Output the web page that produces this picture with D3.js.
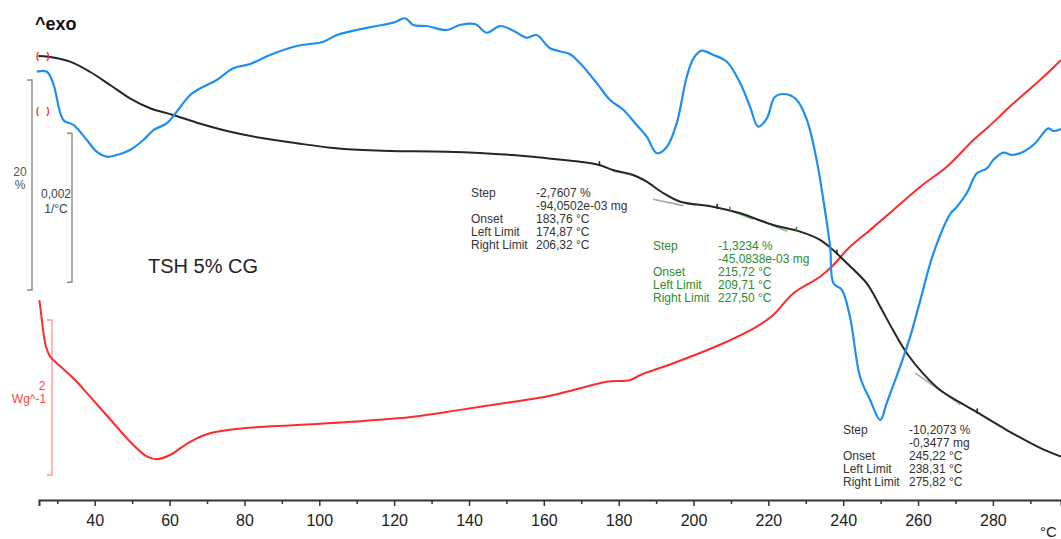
<!DOCTYPE html>
<html>
<head>
<meta charset="utf-8">
<script src="https://cdn.jsdelivr.net/npm/d3@7"></script>
<style>
  html, body { margin: 0; padding: 0; background: #fff; overflow: hidden; }
  svg { display: block; font-family: "Liberation Sans", Arial, sans-serif; }
</style>
</head>
<body>
<svg id="chart" width="1061" height="539"></svg>
<script>
// ---- TG curve: mass (%) vs temperature (°C)
const tgTemp = [24.9, 27.6, 33.4, 38.7, 44.1, 49.4, 54.8, 60.9, 67.3, 76.2, 85.0, 94.0, 102.9, 111.7, 118.9,
  134.1, 151.8, 160.8, 169.7, 174.8, 178.5, 183.9, 187.5, 191.9, 196.5, 205.2, 212.5, 221.3, 228.5, 233.8,
  237.3, 241.0, 246.3, 249.9, 253.3, 257.0, 261.3, 265.9, 274.7, 283.7, 292.6, 298.2];
const tgValue = [100.0, 99.93, 99.46, 98.50, 97.24, 95.97, 95.02, 94.38, 93.65, 92.79, 92.16, 91.69, 91.27, 91.05, 90.95,
  90.89, 90.57, 90.26, 89.93, 89.62, 89.14, 88.67, 88.03, 86.95, 86.12, 85.65, 85.02, 83.90, 83.27, 82.48,
  81.52, 80.26, 78.35, 76.12, 73.90, 71.69, 69.78, 68.19, 66.29, 64.38, 62.67, 61.84];

// ---- DTG curve (1/°C)
const dtgTemp = [24.5, 27.2, 28.9, 31.6, 34.3, 37.9, 40.5, 43.2, 45.9, 49.4, 53.0, 55.7, 59.2, 61.9, 65.5, 69.0,
  72.6, 77.0, 81.5, 86.8, 94.0, 101.1, 104.7, 110.0, 115.4, 119.8, 122.9, 125.1, 128.7, 134.1, 137.6, 141.6,
  144.8, 148.3, 151.9, 155.4, 158.1, 161.7, 167.0, 169.7, 174.2, 177.7, 181.3, 184.8, 187.5, 190.2, 192.9,
  195.5, 198.2, 200.0, 202.2, 205.3, 208.9, 212.5, 215.1, 217.3, 219.6, 221.8, 224.9, 227.6, 230.3, 232.9,
  234.7, 236.5, 237.4, 239.6, 241.8, 244.5, 247.2, 249.9, 251.6, 255.2, 257.9, 260.6, 264.1, 268.7, 270.4,
  273.0, 275.7, 278.4, 280.1, 282.8, 285.1, 288.2, 291.3, 294.8, 296.2, 298.2];
const dtgValue = [0, 0, -0.000156, -0.000648, -0.000715, -0.000917, -0.001074, -0.001141, -0.001118, -0.001051,
  -0.000917, -0.000783, -0.000693, -0.000537, -0.000313, -0.000201, -0.000111, 0.000046, 0.000103, 0.000224,
  0.000345, 0.000403, 0.000493, 0.000560, 0.000613, 0.000658, 0.000717, 0.000627, 0.000613, 0.000560, 0.000627,
  0.000640, 0.000523, 0.000613, 0.000550, 0.000456, 0.000493, 0.000314, 0.000234, 0.000113, -0.000156,
  -0.000380, -0.000514, -0.000715, -0.000872, -0.001095, -0.001007, -0.000693, -0.000067, 0.000180, 0.000282,
  0.000224, 0.000134, -0.000156, -0.000470, -0.000738, -0.000626, -0.000336, -0.000303, -0.000380, -0.000648,
  -0.001185, -0.001722, -0.002349, -0.002840, -0.002926, -0.003289, -0.004094, -0.004407, -0.004675, -0.004451,
  -0.003960, -0.003557, -0.003069, -0.002438, -0.001901, -0.001812, -0.001632, -0.001364, -0.001297, -0.001185,
  -0.001087, -0.001118, -0.001074, -0.000961, -0.000760, -0.000796, -0.000769];

// ---- DSC heat flow (W/g)
const dscTemp = [25.2, 25.8, 26.3, 27.0, 28.1, 30.7, 34.3, 38.7, 45.0, 49.4, 53.9, 56.6, 60.1, 65.5, 70.8, 79.7,
  94.0, 111.8, 125.1, 138.5, 151.9, 161.7, 167.9, 176.8, 183.1, 185.8, 194.6, 208.0, 216.9, 221.3, 226.7,
  233.8, 237.4, 241.4, 247.2, 253.4, 260.6, 267.7, 274.8, 278.4, 285.5, 292.6, 298.2];
const dscValue = [-0.04, -0.27, -0.465, -0.645, -0.770, -0.890, -1.049, -1.283, -1.626, -1.864, -2.057, -2.094,
  -2.039, -1.868, -1.759, -1.695, -1.652, -1.600, -1.545, -1.450, -1.352, -1.274, -1.200, -1.094, -1.071,
  -1.006, -0.855, -0.597, -0.383, -0.232, 0.048, 0.262, 0.413, 0.628, 0.865, 1.123, 1.423, 1.681, 2.026,
  2.177, 2.499, 2.800, 3.058];

// ---- x-axis ticks
const tickTemps = d3.range(30, 300, 10);
const labelledTemps = [40, 60, 80, 100, 120, 140, 160, 180, 200, 220, 240, 260, 280];

// ---- step evaluations on the TG curve
const stepLabels = ["Step", "", "Onset", "Left Limit", "Right Limit"];
const step1Values = ["-2,7607 %", "-94,0502e-03 mg", "183,76 °C", "174,87 °C", "206,32 °C"];
const step2Values = ["-1,3234 %", "-45,0838e-03 mg", "215,72 °C", "209,71 °C", "227,50 °C"];
const step3Values = ["-10,2073 %", "-0,3477 mg", "245,22 °C", "238,31 °C", "275,82 °C"];
const stepLimits = [[174.87, 206.32], [209.71, 227.50], [238.31, 275.82]];
// tangent segments: [T, TG %] pairs
const stepTangents = [
  [[[178.5, 89.05], [184.8, 88.55]], [[189.2, 86.35], [197.3, 85.75]]],
  [[[210.6, 85.20], [215.9, 84.45]], [[219.7, 84.10], [225.0, 83.30]]],
  [[[240.5, 80.45], [246.7, 78.20]], [[259.3, 69.80], [271.3, 66.80]]]
];

const svg = d3.select("#chart");

const x = d3.scaleLinear().domain([25.1, 298.2]).range([39, 1061]);
const yTG = d3.scaleLinear().domain([100, 80]).range([56, 266]);
const yDTG = d3.scaleLinear().domain([0, -0.002]).range([71.7, 220.7]);
const yDSC = d3.scaleLinear().domain([0, -2]).range([297, 452]);

const BLUE = "#1e8ff0", RED = "#ff2a2a", BLACK = "#262626", GREEN = "#2e8b2e";

// ---- scale bars
function scaleBar(xPos, top, span, color) {
  svg.append("path")
    .attr("d", `M${xPos - 5},${top}H${xPos}V${top + span}H${xPos - 5}`)
    .attr("fill", "none").attr("stroke", color).attr("stroke-width", 1.4);
}
scaleBar(32, 80, yTG(80) - yTG(100), "#8a8a8a");
scaleBar(72, 133.3, yDTG(-0.002) - yDTG(0), "#8a8a8a");
scaleBar(52, 320, yDSC(-2) - yDSC(0), "#ff9a9a");

const barText = [
  { t: "20", x: 20, y: 176, c: "#555" }, { t: "%", x: 20, y: 189, c: "#555" },
  { t: "0,002", x: 56, y: 198, c: "#444" }, { t: "1/°C", x: 56, y: 213, c: "#444" },
  { t: "2", x: 42, y: 390, c: "#ff4444" }, { t: "Wg^-1", x: 29, y: 403, c: "#ff4444" }
];
svg.selectAll("text.bar").data(barText).join("text")
  .attr("class", "bar").attr("x", d => d.x).attr("y", d => d.y)
  .attr("text-anchor", "middle").attr("font-size", 12).attr("fill", d => d.c).text(d => d.t);

// ---- curves
const line = (sx, sy) => d3.line().x(d => sx(d[0])).y(d => sy(d[1])).curve(d3.curveCatmullRom.alpha(0.5));
const zip = (a, b) => a.map((v, i) => [v, b[i]]);

svg.append("path").datum(zip(dscTemp, dscValue))
  .attr("d", line(x, yDSC)).attr("fill", "none").attr("stroke", RED).attr("stroke-width", 2);

// tangents
stepTangents.forEach((pair, i) => {
  pair.forEach(seg => {
    svg.append("line")
      .attr("x1", x(seg[0][0])).attr("y1", yTG(seg[0][1]))
      .attr("x2", x(seg[1][0])).attr("y2", yTG(seg[1][1]))
      .attr("stroke", i === 1 ? "#7fc27f" : "#a8a8a8").attr("stroke-width", 1.6);
  });
});

svg.append("path").datum(zip(tgTemp, tgValue))
  .attr("d", line(x, yTG)).attr("fill", "none").attr("stroke", BLACK).attr("stroke-width", 2);

svg.append("path").datum(zip(dtgTemp, dtgValue))
  .attr("d", line(x, yDTG)).attr("fill", "none").attr("stroke", BLUE).attr("stroke-width", 2.2);

// limit markers on the TG curve
const tgAt = t => {
  const i = d3.bisectLeft(tgTemp, t);
  const t0 = tgTemp[i - 1], t1 = tgTemp[i];
  return d3.interpolateNumber(tgValue[i - 1], tgValue[i])((t - t0) / (t1 - t0));
};
stepLimits.forEach((lim, i) => {
  lim.forEach(t => {
    const cy = yTG(tgAt(t));
    svg.append("line").attr("x1", x(t)).attr("x2", x(t)).attr("y1", cy - 4).attr("y2", cy + 1)
      .attr("stroke", i === 1 ? GREEN : "#222").attr("stroke-width", 1.5);
  });
});

// start markers
[56, 111].forEach(yy => {
  svg.append("text").attr("x", 36).attr("y", yy + 3).attr("font-size", 9).attr("font-weight", "bold")
    .attr("fill", "#ff2020").attr("xml:space", "preserve").text("(   )");
});

// ---- step annotation blocks
function stepBlock(lx, vx, y0, values, color) {
  const g = svg.append("g").attr("font-size", 12).attr("fill", color);
  stepLabels.forEach((s, i) => {
    g.append("text").attr("x", lx).attr("y", y0 + i * 13.1).text(s);
    g.append("text").attr("x", vx).attr("y", y0 + i * 13.1).text(values[i]);
  });
}
stepBlock(471, 536, 197, step1Values, "#333");
stepBlock(653, 718, 250, step2Values, GREEN);
stepBlock(843, 909, 434, step3Values, "#333");

// ---- titles
svg.append("text").attr("x", 35).attr("y", 30).attr("font-size", 18).attr("font-weight", "bold")
  .attr("fill", "#111").text("^exo");
svg.append("text").attr("x", 148).attr("y", 273).attr("font-size", 20).attr("fill", "#222").text("TSH 5% CG");

// ---- x axis
const axis = d3.axisBottom(x).tickValues(tickTemps).tickSizeOuter(0).tickSize(6).tickPadding(9)
  .tickFormat(d => labelledTemps.includes(d) ? d : "");
const gx = svg.append("g").attr("transform", "translate(0,500)").call(axis);
gx.select(".domain").attr("stroke", "#333").attr("stroke-width", 2);
gx.selectAll(".tick line").attr("stroke", "#333").attr("stroke-width", 1.5)
  .attr("y2", d => labelledTemps.includes(d) ? 6 : 4);
gx.selectAll(".tick text").attr("font-size", 16).attr("fill", "#222")
  .attr("font-family", "\"Liberation Sans\", Arial, sans-serif");
svg.append("text").attr("x", 1040).attr("y", 537).attr("font-size", 15).attr("fill", "#222").text("°C");
</script>
</body>
</html>
